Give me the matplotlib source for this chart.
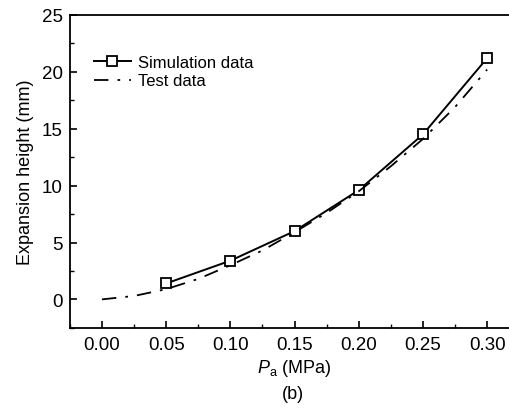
import matplotlib
matplotlib.use('Agg')
import matplotlib.pyplot as plt
from matplotlib.ticker import MultipleLocator

plt.rcParams['font.family'] = ['Liberation Sans', 'DejaVu Sans']
plt.rcParams['mathtext.fontset'] = 'custom'
plt.rcParams['mathtext.it'] = 'Liberation Sans:italic'
plt.rcParams['mathtext.rm'] = 'Liberation Sans'

# simulation points
sim_p = [0.05, 0.10, 0.15, 0.20, 0.25, 0.30]
sim_h = [1.4, 3.4, 6.0, 9.6, 14.5, 21.2]

# test curve
test_p = [0.0, 0.025, 0.05, 0.075, 0.10, 0.125, 0.15, 0.175, 0.20, 0.225, 0.25, 0.275, 0.30]
test_h = [0.0, 0.3, 0.9, 1.8, 3.0, 4.3, 5.9, 7.6, 9.5, 11.7, 14.1, 16.9, 20.2]

fig = plt.figure(figsize=(5.1, 4.1), dpi=100)
# right edge runs past the figure, like the cropped original
ax = fig.add_axes([0.137, 0.198, 0.881, 0.763])

ax.plot(sim_p, sim_h, color='black', lw=1.4, marker='s', ms=7,
        mfc='white', mec='black', mew=1.3, label='Simulation data')
ax.plot(test_p, test_h, color='black', lw=1.3, linestyle=(0, (8, 5, 1.5, 5)),
        label='Test data')

ax.set_xlim(-0.025, 0.325)
ax.set_ylim(-2.5, 25)
ax.xaxis.set_minor_locator(MultipleLocator(0.025))
ax.yaxis.set_major_locator(MultipleLocator(5))
ax.yaxis.set_minor_locator(MultipleLocator(2.5))
ax.set_xticks([0, 0.05, 0.10, 0.15, 0.20, 0.25, 0.30])
ax.set_xticklabels(['0.00', '0.05', '0.10', '0.15', '0.20', '0.25', '0.30'])
ax.tick_params(which='both', direction='in', labelsize=13.5, top=False, right=False)
ax.tick_params(which='major', length=5, width=1.2)
ax.tick_params(which='minor', length=3, width=1.0)
ax.tick_params(axis='x', pad=6)
ax.tick_params(axis='y', pad=5)
for s in ax.spines.values():
    s.set_linewidth(1.3)

ax.set_ylabel('Expansion height (mm)', fontsize=13, labelpad=6)
ax.set_xlabel(r'$\mathit{P}_{\mathrm{a}}$ (MPa)', fontsize=13, labelpad=3)
fig.text(0.575, 0.037, '(b)', fontsize=13, ha='center', va='center')

ax.legend(loc='upper left', bbox_to_anchor=(0.02, 0.92), frameon=False,
          fontsize=12, handlelength=2.2, handletextpad=0.45, labelspacing=0.2)

fig.savefig('out.png', dpi=100)
